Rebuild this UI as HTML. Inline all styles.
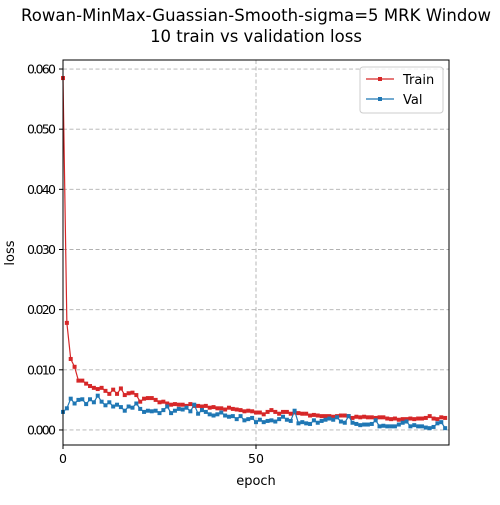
<!DOCTYPE html>
<html><head><meta charset="utf-8"><style>
body{margin:0;background:#fff;font-family:"Liberation Sans","DejaVu Sans",sans-serif}
</style></head><body>
<svg width="500" height="500" xmlns="http://www.w3.org/2000/svg" font-family="DejaVu Sans, Liberation Sans, sans-serif">
<rect width="500" height="500" fill="#fff"/>
<text x="256" y="21" text-anchor="middle" font-size="16.5" textLength="470">Rowan-MinMax-Guassian-Smooth-sigma=5 MRK Window</text>
<text x="256" y="42" text-anchor="middle" font-size="16.5">10 train vs validation loss</text>
<g id="grid"></g>
<g id="series"></g>
<rect x="63" y="60" width="386" height="385" fill="none" stroke="#000" stroke-width="1"/>
<g id="ticks"></g>
<text x="256" y="485" text-anchor="middle" font-size="13">epoch</text>
<text x="14" y="253" text-anchor="middle" font-size="13" transform="rotate(-90 14 253)">loss</text>
<g>
<rect x="360" y="67" width="83" height="46" rx="3" fill="#fff" fill-opacity="0.8" stroke="#ccc"/>
<line x1="366" y1="79" x2="394" y2="79" stroke="#d62728" stroke-width="1.2"/><rect x="378" y="77" width="4" height="4" fill="#d62728"/>
<text x="403" y="84" font-size="13">Train</text>
<line x1="366" y1="99" x2="394" y2="99" stroke="#1f77b4" stroke-width="1.2"/><rect x="378" y="97" width="4" height="4" fill="#1f77b4"/>
<text x="403" y="104" font-size="13">Val</text>
</g>
</svg>
<script>
const train=[0.0585,0.0178,0.0118,0.0105,0.0082,0.0082,0.0077,0.0073,0.0070,0.0068,0.0070,0.0065,0.0060,0.0067,0.0060,0.0069,0.0058,0.0061,0.0062,0.0058,0.0047,0.0052,0.0053,0.0053,0.0050,0.0046,0.0047,0.0044,0.0042,0.0043,0.0042,0.0042,0.0040,0.0043,0.0040,0.0040,0.0039,0.0040,0.0037,0.0038,0.0036,0.0036,0.0034,0.0037,0.0035,0.0034,0.0033,0.0031,0.0032,0.0031,0.0029,0.0029,0.0026,0.0030,0.0033,0.0030,0.0027,0.0030,0.0030,0.0027,0.0029,0.0028,0.0027,0.0027,0.0024,0.0025,0.0024,0.0023,0.0023,0.0023,0.0022,0.0023,0.0024,0.0024,0.0023,0.0020,0.0022,0.0021,0.0022,0.0021,0.0021,0.0020,0.0021,0.0021,0.0019,0.0018,0.0019,0.0017,0.0018,0.0018,0.0019,0.0018,0.0019,0.0019,0.0020,0.0023,0.0019,0.0018,0.0021,0.0020];
const val=[0.0030,0.0036,0.0052,0.0044,0.0050,0.0051,0.0043,0.0051,0.0046,0.0057,0.0047,0.0041,0.0046,0.0039,0.0042,0.0038,0.0032,0.0039,0.0037,0.0044,0.0035,0.0030,0.0032,0.0031,0.0032,0.0028,0.0033,0.0039,0.0028,0.0032,0.0035,0.0034,0.0037,0.0031,0.0042,0.0027,0.0033,0.0030,0.0026,0.0024,0.0026,0.0029,0.0024,0.0022,0.0023,0.0018,0.0023,0.0016,0.0018,0.0020,0.0013,0.0017,0.0013,0.0015,0.0016,0.0014,0.0018,0.0022,0.0017,0.0015,0.0032,0.0011,0.0013,0.0011,0.0010,0.0016,0.0012,0.0015,0.0017,0.0019,0.0017,0.0021,0.0014,0.0012,0.0023,0.0012,0.0010,0.0008,0.0009,0.0009,0.0010,0.0016,0.0006,0.0007,0.0006,0.0006,0.0006,0.0009,0.0012,0.0014,0.0006,0.0008,0.0006,0.0006,0.0004,0.0003,0.0005,0.0011,0.0013,0.0003];
const xTicks=[0,50];
const yTicks=[0,0.01,0.02,0.03,0.04,0.05,0.06];
const yTickLabels=["0.000","0.010","0.020","0.030","0.040","0.050","0.060"];
const NS="http://www.w3.org/2000/svg";
const X0=63,X1=449,Y0=445,Y1=60,xmin=0,xmax=100,ymin=-0.0025,ymax=0.0615;
const sx=v=>X0+(v-xmin)/(xmax-xmin)*(X1-X0);
const sy=v=>Y0-(v-ymin)/(ymax-ymin)*(Y0-Y1);
function mk(t,a,p){const e=document.createElementNS(NS,t);for(const k in a)e.setAttribute(k,a[k]);p.appendChild(e);return e;}
const grid=document.getElementById('grid'),ticks=document.getElementById('ticks'),ser=document.getElementById('series');
xTicks.forEach(v=>{const x=sx(v);
 const g=mk('line',{x1:x,x2:x,y1:Y1,y2:Y0,stroke:'#b0b0b0','stroke-dasharray':'4,2.5','stroke-width':0.9},grid);
 
 mk('line',{x1:x,x2:x,y1:Y0,y2:Y0+4,stroke:'#000'},ticks);
 const t=mk('text',{x:x,y:Y0+18,'text-anchor':'middle','font-size':12.5},ticks);t.textContent=v;
 });
yTicks.forEach((v,i)=>{const y=sy(v);
 const g=mk('line',{x1:X0,x2:X1,y1:y,y2:y,stroke:'#b0b0b0','stroke-dasharray':'4,2.5','stroke-width':0.9},grid);
 
 mk('line',{x1:X0-4,x2:X0,y1:y,y2:y,stroke:'#000'},ticks);
 const t=mk('text',{x:X0-7,y:y+4.5,'text-anchor':'end','font-size':12.5,textLength:29},ticks);t.textContent=yTickLabels[i];
 });
function draw(arr,c,name){
 const pts=arr.map((v,i)=>sx(i).toFixed(2)+','+sy(v).toFixed(2)).join(' ');
 const l=mk('polyline',{points:pts,fill:'none',stroke:c,'stroke-width':1.2},ser);
 
 arr.forEach((v,i)=>{const m=mk('rect',{x:sx(i)-2,y:sy(v)-2,width:4,height:4,fill:c},ser);
  });
}
draw(train,'#d62728','train');
draw(val,'#1f77b4','val');
</script>
</body></html>
